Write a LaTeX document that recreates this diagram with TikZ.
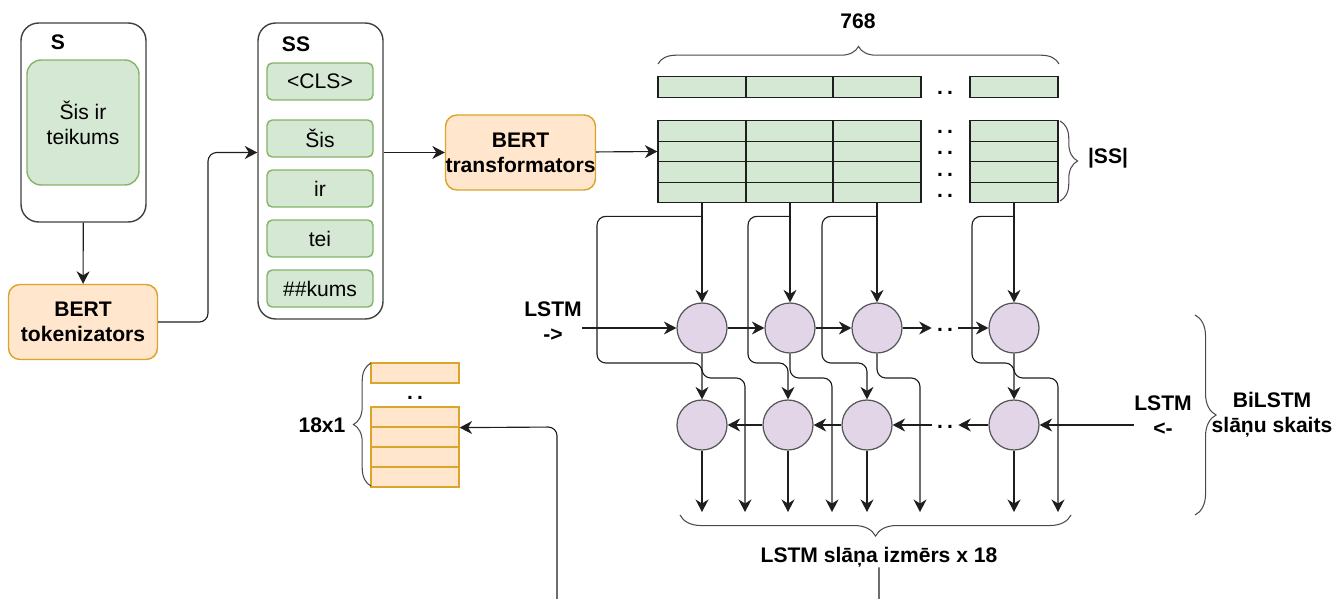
\documentclass[tikz,border=0pt]{standalone}
\usepackage{fontspec}
\setmainfont{Liberation Sans}
\usetikzlibrary{arrows.meta,positioning,decorations.pathreplacing,calc}
\definecolor{leafbg}{HTML}{D5E8D4}
\definecolor{leafln}{HTML}{82B366}
\definecolor{peach}{HTML}{FFE6CC}
\definecolor{gold}{HTML}{D9A52A}
\definecolor{lilac}{HTML}{E1D5E7}
\definecolor{ink}{RGB}{30,30,30}
\newcommand{\twodots}{.\kern0.85mm.}
\tikzset{
  >={Stealth[length=2.5mm,width=2.6mm,inset=0.8mm]},
  txt/.style={font=\fontsize{12}{14.2}\selectfont,align=center,inner sep=0pt},
  lbl/.style={font=\fontsize{12}{14.2}\selectfont\bfseries,align=center,inner sep=0pt},
  frame/.style={draw=ink!85,line width=0.8pt,rounded corners=10pt,minimum width=2.5cm},
  sent/.style={txt,draw=leafln,fill=leafbg,line width=0.8pt,rounded corners=8pt,
    minimum width=2.24cm,minimum height=2.5cm},
  tokbox/.style={txt,draw=leafln,fill=leafbg,line width=0.8pt,rounded corners=3pt,
    minimum width=2.12cm,minimum height=0.74cm},
  bert/.style={lbl,draw=gold,fill=peach,line width=0.8pt,rounded corners=6.5pt,
    minimum width=2.98cm,minimum height=1.5cm},
  cell/.style={draw=ink,fill=leafbg,line width=0.7pt,inner sep=0pt,
    minimum width=1.76cm,minimum height=0.41cm},
  ocell/.style={draw=gold,fill=peach,line width=0.7pt,inner sep=0pt,
    minimum width=1.76cm,minimum height=0.4cm},
  unit/.style={circle,draw=ink!75,fill=lilac,line width=0.7pt,inner sep=0pt,minimum size=1cm},
  dotsn/.style={lbl,inner xsep=0.1cm},
  flow/.style={->,draw=ink,line width=0.65pt,rounded corners=5pt},
  brc/.style={decorate,decoration={brace,amplitude=#1},draw=ink!80,line width=0.6pt},
  brc/.default=10pt,
}

\begin{document}
\begin{tikzpicture}[x=0.02cm,y=-0.02cm]
\useasboundingbox (0,0) rectangle (1334,598);
% sentence and its tokens
\node[frame,minimum height=3.98cm] (s) at (83.5,122.5) {};
\node[lbl] (slbl) at (58,42) {S};
\node[sent] (sent) at (83,122.5) {Šis ir\\teikums};
\node[bert] (tok) at (83,322) {BERT\\tokenizators};
\node[frame,minimum height=5.92cm] (ss) at (320.5,171) {};
\node[lbl] (sslbl) at (296,44) {SS};
\foreach \t/\y [count=\i] in {<CLS>/81.5,Šis/138.5,ir/188.5,tei/238.5,\#\#kums/288.5}
  \node[tokbox] (t\i) at (320,\y) {\t};
\node[bert] (bt) at (520.5,152.5) {BERT\\transformators};
\draw[flow] (s) -- (tok);
\draw[flow] (tok.east) -| (208,152.5) -- (ss.west |- bt);
\draw[flow] (ss.east |- bt) -- (bt);
% embeddings
\foreach \col/\x in {1/702,2/790,3/877,4/1014}{
  \node[cell] (e\col) at (\x,87) {};
  \foreach \rw/\y in {1/131,2/151.5,3/172,4/192.5}
    \node[cell] (g\col\rw) at (\x,\y) {};
}
\foreach \y [count=\i] in {93,132,153,175,196}
  \node[lbl] (gd\i) at (945,\y) {\twodots};
\draw[flow] (bt) -- (g12.west);
\draw[brc] (658,64) -- (1059,64);
\node[lbl] (dim) at (858,21) {768};
\draw[brc] (1060,121) -- (1060,201);
\node[lbl] (nss) at (1108,158) {|SS|};
% BiLSTM
\foreach \col/\x in {1/702,2/790,3/877,4/1014}
  \node[unit] (f\col) at (\x,328) {};
\foreach \col/\x in {1/702,2/788,3/867,4/1014}
  \node[unit] (b\col) at (\x,425) {};
\foreach \col in {1,...,4}
  \draw[flow] (g\col4.south) -- (f\col);
\foreach \col/\bx in {1/597,2/748,3/822,4/972}
  \draw[flow] (g\col4.south) ++(0,13) -| (\bx,363) -| (b\col.north);
\foreach \col/\ox in {1/745,2/832,3/920,4/1058}
  \draw[flow] (f\col.south) |- (\ox,378) -- (\ox,512);
\foreach \col in {1,...,4}
  \draw[flow] (b\col.south) -- (b\col.south |- 0,512);
\node[lbl] (fwd) at (553,322) {LSTM\\->};
\node[dotsn] (fd) at (945,330) {\twodots};
\draw[flow] (fwd.east |- f1) -- (f1);
\draw[flow] (f1) -- (f2);
\draw[flow] (f2) -- (f3);
\draw[flow] (f3) -- (fd.west |- f3);
\draw[flow] (fd.east |- f4) -- (f4);
\node[lbl] (bwd) at (1163,416) {LSTM\\<-};
\node[dotsn] (bd) at (945,427) {\twodots};
\draw[flow] (bwd.west |- b4) -- (b4);
\draw[flow] (b4) -- (bd.east |- b4);
\draw[flow] (bd.west |- b3) -- (b3);
\draw[flow] (b3) -- (b2);
\draw[flow] (b2) -- (b1);
\draw[brc=12pt] (1195,315) -- (1195,515);
\node[lbl] (bil) at (1272,415) {BiLSTM\\slāņu skaits};
\draw[brc=12pt] (1071,515) -- (680,515);
\node[lbl] (lsz) at (879,557) {LSTM slāņa izmērs x 18};
% output
\node[ocell] (o0) at (415,373) {};
\foreach \rw/\y in {1/417,2/437,3/457,4/477}
  \node[ocell] (o\rw) at (415,\y) {};
\node[lbl] (od) at (415,398) {\twodots};
\draw[brc] (371,486) -- (371,363);
\node[lbl] (olbl) at (322,425) {18x1};
\draw[flow] (lsz.south) -- ++(0,60) -| (557,427) -- (o1.south east);
\end{tikzpicture}
\end{document}
